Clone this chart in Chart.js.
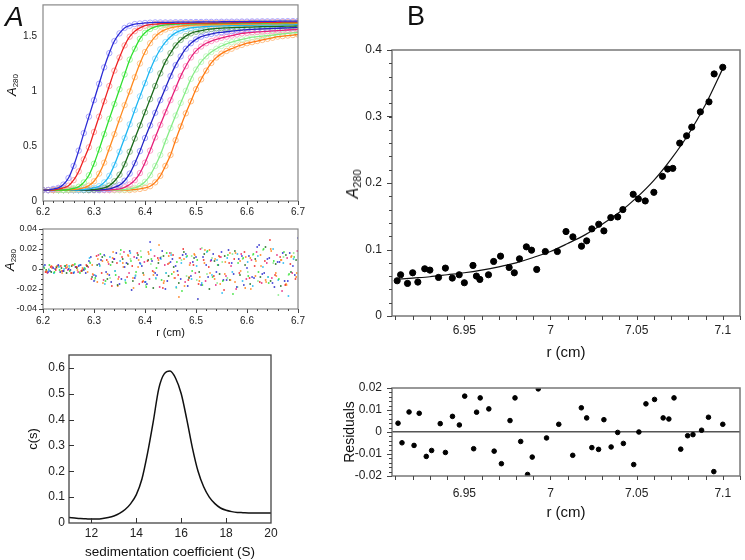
<!DOCTYPE html>
<html><head><meta charset="utf-8">
<script src="https://cdn.jsdelivr.net/npm/chart.js@4.4.0/dist/chart.umd.min.js"></script>
<style>
html,body{margin:0;padding:0;background:#fff;}
body{width:745px;height:560px;position:relative;overflow:hidden;font-family:"Liberation Sans",Arial,sans-serif;color:#111;}
canvas.full{position:absolute;left:0;top:0;}
.lbl{position:absolute;white-space:nowrap;line-height:1;}
.rot{position:absolute;white-space:nowrap;line-height:1;transform:translate(-50%,-50%) rotate(-90deg);}
.rot i{font-style:italic;}
.rot sub{vertical-align:-0.25em;line-height:0;}
</style></head><body>
<canvas id="cA1" class="full" width="745" height="560"></canvas>
<canvas id="cA2" class="full" width="745" height="560"></canvas>
<canvas id="cA3" class="full" width="745" height="560"></canvas>
<canvas id="cB1" class="full" width="745" height="560"></canvas>
<canvas id="cB2" class="full" width="745" height="560"></canvas>
<div class="lbl" style="left:5px;top:3px;font-size:28px;font-style:italic;">A</div>
<div class="lbl" style="left:407px;top:3px;font-size:27px;">B</div>
<div class="rot" style="left:11px;top:85px;font-size:13px;"><i>A</i><sub style="font-size:8px">280</sub></div>
<div class="rot" style="left:9px;top:260px;font-size:13px;"><i>A</i><sub style="font-size:8px">280</sub></div>
<div class="rot" style="left:353px;top:184px;font-size:16px;"><i>A</i><sub style="font-size:11px">280</sub></div>
<script>
// ---------- Panel A (top): sedimentation velocity boundaries ----------
const scanR = [6.20,6.21,6.22,6.23,6.24,6.25,6.26,6.27,6.28,6.29,6.30,6.31,6.32,6.33,6.34,6.35,6.36,6.37,6.38,6.39,6.40,6.41,6.42,6.43,6.44,6.45,6.46,6.47,6.48,6.49,6.50,6.51,6.52,6.53,6.54,6.55,6.56,6.57,6.58,6.59,6.60,6.61,6.62,6.63,6.64,6.65,6.66,6.67,6.68,6.69,6.70];
const scan1 = [0.10,0.10,0.11,0.12,0.15,0.21,0.32,0.46,0.62,0.77,0.92,1.07,1.22,1.35,1.46,1.53,1.58,1.60,1.615,1.62,1.625,1.628,1.63,1.63,1.63,1.63,1.632,1.632,1.633,1.633,1.634,1.634,1.635,1.635,1.635,1.636,1.636,1.637,1.637,1.638,1.638,1.639,1.639,1.64,1.64,1.64,1.641,1.641,1.642,1.642,1.643];
const scan2 = [0.10,0.10,0.10,0.11,0.12,0.14,0.19,0.27,0.38,0.49,0.63,0.77,0.91,1.05,1.19,1.31,1.42,1.50,1.55,1.58,1.60,1.61,1.615,1.618,1.62,1.62,1.621,1.622,1.622,1.623,1.623,1.624,1.624,1.625,1.625,1.626,1.626,1.627,1.627,1.628,1.628,1.629,1.629,1.63,1.63,1.631,1.631,1.632,1.632,1.633,1.633];
const scan3 = [0.10,0.10,0.10,0.10,0.10,0.105,0.115,0.13,0.17,0.235,0.34,0.47,0.61,0.75,0.885,1.02,1.155,1.29,1.39,1.48,1.535,1.57,1.59,1.60,1.607,1.612,1.615,1.616,1.617,1.618,1.618,1.619,1.619,1.62,1.62,1.621,1.621,1.622,1.622,1.623,1.623,1.624,1.624,1.625,1.625,1.626,1.626,1.627,1.627,1.628,1.628];
const scan4 = [0.10,0.10,0.10,0.10,0.10,0.10,0.105,0.11,0.12,0.14,0.18,0.25,0.35,0.48,0.61,0.745,0.875,1.00,1.13,1.255,1.36,1.44,1.50,1.54,1.565,1.58,1.59,1.597,1.602,1.605,1.607,1.608,1.609,1.61,1.61,1.611,1.612,1.612,1.613,1.614,1.614,1.615,1.616,1.616,1.617,1.618,1.618,1.619,1.62,1.62,1.621];
const scan5 = [0.10,0.10,0.10,0.10,0.10,0.10,0.10,0.10,0.105,0.11,0.12,0.135,0.17,0.23,0.33,0.45,0.575,0.70,0.83,0.955,1.075,1.195,1.30,1.385,1.45,1.50,1.535,1.555,1.57,1.58,1.585,1.59,1.593,1.595,1.597,1.598,1.599,1.60,1.601,1.602,1.603,1.604,1.605,1.606,1.606,1.607,1.608,1.608,1.609,1.61,1.61];
const scan6 = [0.10,0.10,0.10,0.10,0.10,0.10,0.10,0.10,0.10,0.10,0.105,0.11,0.12,0.14,0.18,0.24,0.335,0.45,0.57,0.69,0.81,0.93,1.05,1.165,1.27,1.35,1.42,1.47,1.505,1.53,1.545,1.555,1.565,1.57,1.575,1.578,1.58,1.582,1.584,1.585,1.587,1.588,1.59,1.591,1.592,1.593,1.594,1.595,1.596,1.597,1.598];
const scan7 = [0.10,0.10,0.10,0.10,0.10,0.10,0.10,0.10,0.10,0.10,0.10,0.10,0.105,0.11,0.125,0.145,0.185,0.25,0.345,0.455,0.575,0.69,0.805,0.92,1.03,1.14,1.24,1.32,1.39,1.44,1.475,1.50,1.515,1.525,1.535,1.54,1.545,1.55,1.555,1.56,1.565,1.567,1.569,1.571,1.573,1.575,1.577,1.579,1.581,1.583,1.585];
const scan8 = [0.10,0.10,0.10,0.10,0.10,0.10,0.10,0.10,0.10,0.10,0.10,0.10,0.10,0.10,0.105,0.11,0.125,0.15,0.19,0.255,0.35,0.46,0.58,0.695,0.81,0.92,1.03,1.14,1.23,1.31,1.37,1.41,1.44,1.46,1.475,1.49,1.50,1.51,1.52,1.53,1.535,1.54,1.543,1.546,1.549,1.552,1.555,1.558,1.561,1.564,1.567];
const scan9 = [0.10,0.10,0.10,0.10,0.10,0.10,0.10,0.10,0.10,0.10,0.10,0.10,0.10,0.10,0.10,0.10,0.105,0.11,0.12,0.14,0.175,0.235,0.32,0.42,0.545,0.665,0.78,0.895,1.005,1.115,1.20,1.27,1.32,1.36,1.39,1.415,1.435,1.45,1.465,1.475,1.485,1.495,1.50,1.505,1.51,1.515,1.52,1.525,1.53,1.535,1.54];
const scan10 = [0.10,0.10,0.10,0.10,0.10,0.10,0.10,0.10,0.10,0.10,0.10,0.10,0.10,0.10,0.10,0.10,0.10,0.10,0.105,0.11,0.12,0.135,0.17,0.23,0.32,0.42,0.555,0.68,0.80,0.91,1.02,1.11,1.19,1.26,1.31,1.345,1.37,1.39,1.41,1.425,1.44,1.45,1.46,1.47,1.48,1.49,1.50,1.505,1.51,1.515,1.52];
const lineColors = ['#2b2bd6','#ee2222','#2ee02e','#ff8a1e','#1eb6f2','#1a6a1a','#2424c4','#e6207a','#86ec86','#ff7a12'];
const circleColors = ['#a09cff','#ff9e9e','#9cf59c','#ffc48a','#92dcff','#86b886','#9a9aff','#ff96c4','#bff7bf','#ffb878'];

// ---------- Panel A (middle): residuals ----------
const resOffset = [0,0.005,0.0025,0.0075,0.00125,0.00625,0.00375,0.00875,0.0015,0.0065];
const res1 = [0.002,-0.003,0.001,0.004,-0.002,0.000,-0.004,0.003,-0.001,0.008,-0.012,0.005,0.014,-0.006,0.010,-0.015,0.002,0.018,-0.009,0.006,-0.013,0.027,-0.004,0.011,-0.020,0.007,0.003,-0.010,0.015,-0.007,0.012,-0.016,0.004,0.009,-0.003,0.017,-0.011,0.006,-0.018,0.013,0.001,-0.008,0.022,-0.005,0.010,-0.014,0.007,0.016,-0.012,0.003,0.031];
const res2 = [-0.003,0.002,-0.001,0.003,0.001,-0.004,0.002,-0.002,0.004,-0.010,0.013,-0.004,0.009,-0.017,0.006,0.012,-0.008,0.003,0.016,-0.013,0.008,-0.002,0.011,-0.019,0.005,0.014,-0.006,0.020,-0.011,0.004,-0.015,0.009,0.002,-0.007,0.013,-0.021,0.006,0.010,-0.004,0.017,-0.009,0.003,-0.013,0.008,0.029,-0.006,0.012,-0.016,0.005,-0.010,0.014];
const res3 = [0.001,0.004,-0.003,-0.001,0.003,-0.002,0.005,-0.004,0.000,0.006,-0.009,0.015,-0.012,0.004,-0.006,0.019,-0.014,0.008,-0.003,0.012,-0.018,0.010,0.001,-0.011,0.016,-0.005,0.007,-0.022,0.013,-0.002,0.009,-0.016,0.018,-0.008,0.004,-0.012,0.014,-0.025,0.006,0.011,-0.007,0.015,-0.003,0.020,-0.014,0.008,-0.010,0.017,-0.005,0.012,-0.019];
const res4 = [-0.002,0.001,0.003,-0.004,0.002,0.004,-0.001,0.001,-0.003,-0.005,0.010,-0.014,0.007,0.017,-0.010,0.002,0.013,-0.019,0.009,-0.006,0.015,-0.003,0.024,-0.012,0.006,-0.009,0.011,-0.017,0.004,0.014,-0.008,0.019,-0.004,0.010,-0.015,0.007,-0.011,0.016,-0.002,0.012,-0.020,0.008,0.003,-0.013,0.018,-0.007,0.009,-0.016,0.013,-0.004,0.021];
const res5 = [0.003,-0.001,-0.004,0.002,0.000,0.003,-0.003,0.004,0.001,0.011,-0.006,0.003,-0.015,0.012,-0.002,0.008,-0.011,0.016,-0.007,0.005,-0.013,0.019,-0.009,0.010,-0.004,0.014,-0.018,0.006,0.012,-0.010,0.003,-0.014,0.017,-0.006,0.009,-0.024,0.011,-0.003,0.015,-0.012,0.007,-0.017,0.013,0.002,-0.008,0.020,-0.011,0.006,-0.027,0.010,-0.005];
const res6 = [-0.001,-0.003,0.002,0.001,-0.004,0.003,0.001,-0.002,0.003,-0.008,0.004,0.012,-0.010,0.007,-0.016,0.010,0.005,-0.012,0.014,-0.004,0.009,-0.019,0.006,0.013,-0.007,0.002,-0.014,0.017,-0.009,0.011,-0.003,0.015,-0.020,0.008,-0.005,0.013,-0.011,0.018,-0.006,0.004,-0.015,0.010,-0.008,0.022,-0.012,0.005,-0.017,0.014,-0.003,0.009,-0.013];
const res7 = [0.004,-0.002,0.000,-0.003,0.003,-0.001,0.002,0.004,-0.004,0.012,-0.007,0.009,-0.003,-0.013,0.016,-0.010,0.006,-0.021,0.011,0.003,-0.015,0.008,-0.006,0.018,-0.012,0.010,-0.002,0.014,-0.017,0.007,-0.030,0.012,-0.008,0.015,0.004,-0.011,0.019,-0.005,0.010,-0.016,0.013,-0.009,0.024,-0.004,0.011,-0.018,0.007,-0.012,0.016,-0.006,0.028];
const res8 = [-0.004,0.002,0.003,-0.002,-0.001,0.004,-0.003,0.000,0.002,-0.006,0.014,-0.011,0.005,0.010,-0.008,0.017,-0.004,0.012,-0.015,0.007,-0.010,0.013,-0.018,0.004,0.016,-0.009,0.011,-0.013,0.006,-0.004,0.020,-0.012,0.008,-0.016,0.012,-0.007,0.003,-0.020,0.015,-0.010,0.009,0.017,-0.014,0.006,-0.009,0.014,-0.022,0.011,-0.004,0.018,-0.011];
const res9 = [0.002,0.000,-0.004,0.003,-0.002,0.001,0.004,-0.003,0.001,0.007,-0.011,0.004,0.013,-0.009,-0.002,0.015,-0.013,0.010,-0.006,0.018,-0.016,0.005,-0.010,0.012,-0.004,0.016,-0.019,0.009,-0.007,0.013,-0.011,0.021,-0.005,0.011,-0.014,0.007,-0.009,0.015,-0.018,0.010,-0.003,0.014,-0.012,0.019,-0.008,0.006,-0.026,0.012,-0.006,0.016,-0.010];
const res10 = [-0.003,0.003,0.001,-0.002,0.004,-0.004,0.002,-0.001,0.003,0.004,-0.013,0.008,-0.005,0.011,-0.017,0.006,0.014,-0.009,0.002,-0.012,0.017,-0.006,0.009,-0.014,0.013,-0.003,-0.028,0.010,-0.008,0.015,-0.012,0.006,0.019,-0.010,0.012,-0.005,0.016,-0.013,0.008,-0.019,0.011,-0.007,0.014,-0.011,0.020,-0.004,0.009,-0.015,0.012,-0.008,0.013];

// ---------- Panel A (bottom): c(s) distribution ----------
const sCoef = [11,11.25,11.5,11.75,12,12.25,12.5,12.75,13,13.25,13.5,13.75,14,14.25,14.5,14.75,15,15.25,15.5,15.75,16,16.25,16.5,16.75,17,17.25,17.5,17.75,18,18.25,18.5,18.75,19,19.25,19.5,19.75,20];
const cOfS = [0.021,0.019,0.017,0.016,0.015,0.015,0.017,0.021,0.027,0.037,0.052,0.075,0.11,0.17,0.27,0.39,0.52,0.578,0.588,0.56,0.50,0.40,0.29,0.20,0.14,0.10,0.075,0.058,0.049,0.044,0.041,0.040,0.039,0.039,0.039,0.039,0.039];

// ---------- Panel B (top): equilibrium data and fit ----------
const rB = [6.911,6.913,6.917,6.920,6.923,6.927,6.930,6.935,6.939,6.943,6.947,6.950,6.955,6.957,6.959,6.964,6.967,6.971,6.976,6.979,6.982,6.986,6.989,6.992,6.997,7.004,7.009,7.013,7.018,7.021,7.024,7.028,7.031,7.035,7.039,7.042,7.048,7.051,7.055,7.060,7.065,7.068,7.071,7.075,7.079,7.082,7.087,7.092,7.095,7.100];
const aB = [0.053,0.062,0.049,0.065,0.051,0.071,0.069,0.058,0.072,0.057,0.062,0.050,0.076,0.060,0.055,0.062,0.082,0.090,0.073,0.065,0.086,0.104,0.099,0.070,0.097,0.097,0.127,0.119,0.105,0.113,0.131,0.138,0.128,0.148,0.149,0.160,0.183,0.176,0.173,0.186,0.210,0.221,0.222,0.260,0.271,0.284,0.307,0.322,0.364,0.374];
const rFit = [6.91,6.92,6.93,6.94,6.95,6.96,6.97,6.98,6.99,7.00,7.01,7.02,7.03,7.04,7.05,7.06,7.07,7.08,7.09,7.10];
const aFit = [0.055,0.057,0.059,0.062,0.065,0.069,0.074,0.080,0.088,0.097,0.109,0.122,0.138,0.156,0.178,0.204,0.236,0.273,0.318,0.372];

// ---------- Panel B (bottom): residuals ----------
const rRes = [6.9115,6.9138,6.9179,6.9208,6.9238,6.9279,6.9310,6.9360,6.9390,6.9431,6.9471,6.9502,6.9554,6.9571,6.9592,6.9642,6.9673,6.9715,6.9765,6.9794,6.9827,6.9867,6.9894,6.9929,6.9977,7.0048,7.0129,7.0179,7.0210,7.0240,7.0279,7.0310,7.0352,7.0390,7.0423,7.0483,7.0513,7.0554,7.0604,7.0654,7.0687,7.0717,7.0756,7.0796,7.0827,7.0877,7.0917,7.0948,7.1000];
const resB = [0.004,-0.0049,0.0091,-0.0061,0.0085,-0.0111,-0.0084,0.0038,-0.0093,0.0071,0.0032,0.0163,-0.0076,0.009,0.0155,0.0105,-0.0087,-0.0144,0.0052,0.0155,-0.0043,-0.0193,-0.0114,0.0196,-0.0027,0.0035,-0.0106,0.011,0.0064,-0.0071,-0.0079,0.0056,-0.0068,-0.0002,-0.0052,-0.0148,0.0,0.0128,0.0148,0.0064,0.0059,0.0155,-0.0078,-0.0017,-0.0012,0.0008,0.0067,-0.018,0.0035];

// ================= rendering =================
Chart.defaults.font.family = '"Liberation Sans", Arial, sans-serif';
Chart.defaults.color = '#222';
Chart.defaults.animation = false;

const fmt = v => String(+Number(v).toFixed(4));
const fixW = w => s => { s.width = w; s.paddingTop = 0; s.paddingBottom = 0; };
const fixH = h => s => { s.height = h; s.paddingLeft = 0; s.paddingRight = 0; };

const boxTicks = {
  id: 'boxTicks',
  afterDatasetsDraw(chart, args, o) {
    const {ctx, chartArea: a} = chart;
    ctx.save();
    ctx.strokeStyle = o.color || '#666';
    ctx.lineWidth = o.width || 1;
    ctx.strokeRect(a.left, a.top, a.right - a.left, a.bottom - a.top);
    ctx.lineWidth = 1;
    ctx.strokeStyle = o.tickColor || '#444';
    ctx.beginPath();
    (o.marks || []).forEach(m => {
      const s = chart.scales[m.axis];
      const n = Math.round((m.to - m.from) / m.step);
      for (let i = 0; i <= n; i++) {
        const p = Math.round(s.getPixelForValue(m.from + i * m.step)) + 0.5;
        if (s.isHorizontal()) { ctx.moveTo(p, a.bottom); ctx.lineTo(p, a.bottom + m.len); }
        else { ctx.moveTo(a.left, p); ctx.lineTo(a.left - m.len, p); }
      }
    });
    ctx.stroke();
    ctx.restore();
  }
};

function axis(opts) {
  const o = {
    type: 'linear', min: opts.min, max: opts.max,
    grid: {display: false, drawTicks: false},
    border: {display: false},
    ticks: {stepSize: opts.step, includeBounds: false, padding: opts.pad, font: {size: opts.fs}, callback: fmt, maxRotation: 0, autoSkip: false, color: '#222'},
    afterFit: opts.w ? fixW(opts.w) : fixH(opts.h)
  };
  if (opts.title) o.title = {display: true, text: opts.title, font: {size: opts.tfs}, color: '#111', padding: {top: opts.tpt || 0, bottom: 0}};
  return o;
}

function make(id, datasets, pad, xs, ys, box) {
  return new Chart(document.getElementById(id), {
    type: 'scatter',
    data: {datasets},
    options: {
      responsive: false, events: [],
      layout: {padding: pad},
      plugins: {legend: {display: false}, tooltip: {enabled: false}, boxTicks: box},
      scales: {x: xs, y: ys}
    },
    plugins: [boxTicks]
  });
}

// A1
const scans = [scan1,scan2,scan3,scan4,scan5,scan6,scan7,scan8,scan9,scan10];
const dsA1 = [];
scans.forEach((arr, i) => {
  const pts = scanR.map((r, k) => ({x: r, y: arr[k]}));
  dsA1.push({data: pts, showLine: true, borderColor: lineColors[i], borderWidth: 1.3, pointRadius: 0, cubicInterpolationMode: 'monotone', order: 0});
  dsA1.push({data: pts, showLine: false, pointRadius: 2.7, pointBorderWidth: 0.9, borderColor: circleColors[i], backgroundColor: 'rgba(0,0,0,0)', order: 1});
});
make('cA1', dsA1, {left: 0, top: 2, right: 447, bottom: 339},
  axis({min: 6.2, max: 6.7, step: 0.1, pad: 5, fs: 10, h: 20}),
  axis({min: 0, max: 1.79, step: 0.5, pad: 6, fs: 10, w: 43}),
  {color: '#888', width: 1.2, marks: [{axis: 'x', from: 6.2, to: 6.7, step: 0.1, len: 4}, {axis: 'x', from: 6.2, to: 6.7, step: 0.02, len: 2}]});

// A2
const resSets = [res1,res2,res3,res4,res5,res6,res7,res8,res9,res10];
const dsA2 = resSets.map((arr, i) => ({
  data: scanR.map((r, k) => ({x: r + resOffset[i], y: arr[k]})),
  showLine: false, pointStyle: 'rect', pointRadius: 1.1, borderWidth: 0,
  backgroundColor: lineColors[i]
}));
make('cA2', dsA2, {left: 0, top: 229, right: 447, bottom: 220},
  axis({min: 6.2, max: 6.7, step: 0.1, pad: 6, fs: 10, h: 31, title: 'r (cm)', tfs: 11}),
  axis({min: -0.04, max: 0.04, step: 0.02, pad: 6, fs: 9, w: 43}),
  {color: '#888', width: 1.2, marks: [{axis: 'x', from: 6.2, to: 6.7, step: 0.1, len: 4}, {axis: 'x', from: 6.2, to: 6.7, step: 0.02, len: 2}, {axis: 'y', from: -0.04, to: 0.04, step: 0.02, len: 4}, {axis: 'y', from: -0.04, to: 0.04, step: 0.005, len: 2}]});

// A3
make('cA3', [{data: sCoef.map((s, k) => ({x: s, y: cOfS[k]})), showLine: true, borderColor: '#111', borderWidth: 1.5, pointRadius: 0, cubicInterpolationMode: 'monotone'}],
  {left: 0, top: 355, right: 474, bottom: 0},
  axis({min: 11, max: 20, step: 2, pad: 3, fs: 12, h: 37, title: 'sedimentation coefficient (S)', tfs: 13.5}),
  axis({min: 0, max: 0.65, step: 0.1, pad: 4, fs: 12, w: 69, title: 'c(s)', tfs: 13, tpt: 26}),
  {color: '#444', width: 1.3, tickColor: '#333', marks: [{axis: 'x', from: 12, to: 18, step: 2, len: -5}, {axis: 'y', from: 0.1, to: 0.6, step: 0.1, len: -5}]});

// B1
make('cB1', [
    {data: rFit.map((r, k) => ({x: r, y: aFit[k]})), showLine: true, borderColor: '#111', borderWidth: 1.2, pointRadius: 0, cubicInterpolationMode: 'monotone', order: 1},
    {data: rB.map((r, k) => ({x: r, y: aB[k]})), showLine: false, pointRadius: 3.1, backgroundColor: '#000', borderColor: '#000', order: 0}
  ],
  {left: 352, top: 50, right: 2, bottom: 198},
  axis({min: 6.908, max: 7.11, step: 0.05, pad: 7, fs: 12, h: 46, title: 'r (cm)', tfs: 15}),
  axis({min: 0, max: 0.4, step: 0.1, pad: 10, fs: 12, w: 40}),
  {color: '#777', width: 1.5, marks: [{axis: 'x', from: 6.91, to: 7.11, step: 0.01, len: 4}, {axis: 'y', from: 0, to: 0.4, step: 0.1, len: 5}, {axis: 'y', from: 0, to: 0.4, step: 0.02, len: 3}]});

// B2
const yB2 = axis({min: -0.02, max: 0.02, step: 0.01, pad: 10, fs: 12, w: 60, title: 'Residuals', tfs: 14, tpt: 10});
yB2.grid = {display: true, drawTicks: false, drawOnChartArea: true, lineWidth: 1.5, color: c => (c.tick && Math.abs(c.tick.value) < 1e-9) ? '#555' : 'rgba(0,0,0,0)'};
make('cB2', [{data: rRes.map((r, k) => ({x: r, y: resB[k]})), showLine: false, pointRadius: 2.3, backgroundColor: '#000', borderColor: '#000'}],
  {left: 332, top: 388, right: 2, bottom: 38},
  axis({min: 6.908, max: 7.11, step: 0.05, pad: 10, fs: 12, h: 46, title: 'r (cm)', tfs: 15}),
  yB2,
  {color: '#777', width: 1.5, marks: [{axis: 'x', from: 6.91, to: 7.11, step: 0.01, len: 4}, {axis: 'y', from: -0.02, to: 0.02, step: 0.01, len: 5}, {axis: 'y', from: -0.02, to: 0.02, step: 0.002, len: 3}]});
</script>
</body></html>
